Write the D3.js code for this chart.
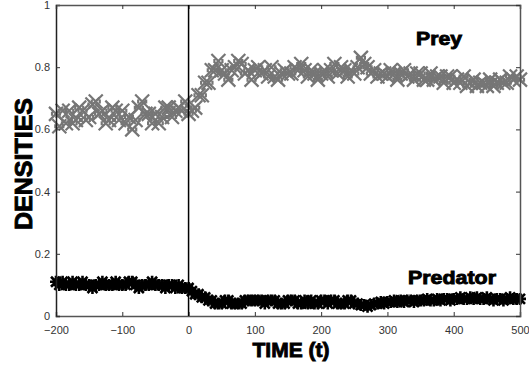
<!DOCTYPE html>
<html>
<head>
<meta charset="utf-8">
<script src="https://cdn.jsdelivr.net/npm/d3@7"></script>
<style>
  html, body { margin: 0; padding: 0; background: #fff; }
</style>
</head>
<body>
<div id="chart"></div>
<script>
// ---------------------------------------------------------------------------
// Prey / predator densities over time (markers only)
// ---------------------------------------------------------------------------

// time samples every 5 units, -200 .. 500
const tStart = -200;
const tStep = 5;

const preyValues = [
  0.65, 0.61, 0.66, 0.62, 0.66, 0.62, 0.63, 0.67, 0.66, 0.63,
  0.64, 0.68, 0.69, 0.65, 0.66, 0.62, 0.63, 0.67, 0.66, 0.63,
  0.66, 0.62, 0.64, 0.60, 0.63, 0.67, 0.69, 0.65, 0.65, 0.62,
  0.65, 0.62, 0.64, 0.67, 0.67, 0.64, 0.66, 0.67, 0.66, 0.69,
  0.65, 0.66, 0.67, 0.71, 0.71, 0.75, 0.75, 0.79, 0.79, 0.82,
  0.79, 0.78, 0.76, 0.79, 0.80, 0.82, 0.81, 0.78, 0.79, 0.76,
  0.79, 0.80, 0.78, 0.79, 0.77, 0.80, 0.77, 0.76, 0.78, 0.79,
  0.78, 0.78, 0.80, 0.79, 0.81, 0.79, 0.77, 0.79, 0.78, 0.76,
  0.78, 0.79, 0.77, 0.79, 0.81, 0.78, 0.80, 0.79, 0.77, 0.79,
  0.78, 0.80, 0.83, 0.81, 0.80, 0.78, 0.79, 0.77, 0.78, 0.78,
  0.77, 0.79, 0.78, 0.76, 0.78, 0.79, 0.77, 0.78, 0.76, 0.78,
  0.78, 0.76, 0.76, 0.78, 0.76, 0.77, 0.77, 0.75, 0.77, 0.77,
  0.75, 0.76, 0.75, 0.77, 0.74, 0.75, 0.76, 0.74, 0.75, 0.75,
  0.74, 0.76, 0.74, 0.75, 0.76, 0.75, 0.75, 0.77, 0.76, 0.77,
  0.76
];

const predatorValues = [
  0.11, 0.10, 0.11, 0.10, 0.10, 0.11, 0.10, 0.10, 0.11, 0.10,
  0.10, 0.09, 0.10, 0.10, 0.11, 0.10, 0.10, 0.10, 0.11, 0.10,
  0.10,
  0.10, 0.11, 0.11, 0.10, 0.09, 0.10, 0.10, 0.10, 0.11, 0.10,
  0.10, 0.10, 0.09, 0.10, 0.10, 0.09, 0.10, 0.09, 0.09, 0.09,
  0.08, 0.07, 0.07, 0.06, 0.06, 0.05, 0.05, 0.04, 0.04, 0.04,
  0.05, 0.05, 0.04, 0.04, 0.04, 0.04, 0.05, 0.05, 0.05, 0.05,
  0.05, 0.05, 0.04, 0.05, 0.05, 0.05, 0.04, 0.04, 0.04, 0.05,
  0.05, 0.05, 0.04, 0.04, 0.05, 0.04, 0.05, 0.04, 0.04, 0.05,
  0.05, 0.04, 0.05, 0.05, 0.04, 0.04, 0.04, 0.05, 0.05, 0.04,
  0.04, 0.035, 0.035, 0.03, 0.035, 0.04, 0.04, 0.045, 0.04, 0.045,
  0.045, 0.05, 0.045, 0.05, 0.045, 0.05, 0.05, 0.045, 0.05, 0.05,
  0.05, 0.055, 0.05, 0.05, 0.055, 0.05, 0.055, 0.055, 0.05, 0.055,
  0.055, 0.06, 0.055, 0.055, 0.06, 0.055, 0.06, 0.055, 0.055, 0.06,
  0.055, 0.05, 0.055, 0.055, 0.05, 0.055, 0.06, 0.055, 0.055, 0.055
];

const xTicks = [-200, -100, 0, 100, 200, 300, 400, 500];
const yTicks = [0, 0.2, 0.4, 0.6, 0.8, 1];
const seriesLabels = ['Prey', 'Predator'];

const width = 529;
const height = 370;
const margin = { top: 5, right: 9, bottom: 54, left: 56 };
const innerW = width - margin.left - margin.right;
const innerH = height - margin.top - margin.bottom;

const x = d3.scaleLinear().domain([-200, 500]).range([0, innerW]);
const y = d3.scaleLinear().domain([0, 1]).range([innerH, 0]);

const svg = d3.select('#chart').append('svg')
  .attr('width', width).attr('height', height)
  .style('font-family', 'Liberation Sans, Arial, sans-serif');

const g = svg.append('g').attr('transform', `translate(${margin.left},${margin.top})`);

const prey = preyValues.map((v, i) => [tStart + i * tStep, v]);
const predator = predatorValues.map((v, i) => [tStart + i * tStep, v]);

// markers
const xMark = 'M-7,-7L7,7M-7,7L7,-7M-4,-2L-4,2M4,-2L4,2';
const starMark = 'M-6,0L6,0M0,-6L0,6M-5,-5L5,5M-5,5L5,-5';

g.append('g').selectAll('path')
  .data(prey)
  .join('path')
  .attr('transform', (d) => `translate(${x(d[0])},${y(d[1])})`)
  .attr('d', xMark)
  .attr('fill', 'none')
  .attr('stroke', '#767676')
  .attr('stroke-width', 2.2);

g.append('g').selectAll('path')
  .data(predator)
  .join('path')
  .attr('transform', (d) => `translate(${x(d[0])},${y(d[1])})`)
  .attr('d', starMark)
  .attr('fill', 'none')
  .attr('stroke', '#000')
  .attr('stroke-width', 2.6);

// axes (ticks inward)
const axBottom = g.append('g').attr('transform', `translate(0,${innerH})`)
  .call(d3.axisBottom(x).tickValues(xTicks).tickSize(-4).tickPadding(10).tickFormat(d3.format('d')));
const axLeft = g.append('g')
  .call(d3.axisLeft(y).tickValues(yTicks).tickSize(-4).tickPadding(6).tickFormat((d) => d === 0 || d === 1 ? d : d3.format('.1f')(d)));
const axTop = g.append('g')
  .call(d3.axisTop(x).tickValues(xTicks).tickSize(-4).tickFormat(''));
const axRight = g.append('g').attr('transform', `translate(${innerW},0)`)
  .call(d3.axisRight(y).tickValues(yTicks).tickSize(-4).tickFormat(''));

[axBottom, axLeft, axTop, axRight].forEach((a) => {
  a.select('.domain').attr('stroke', '#555').attr('stroke-width', 1.5);
  a.selectAll('.tick line').attr('stroke', '#333');
  a.selectAll('.tick text').attr('fill', '#333').style('font-size', '11px');
});
axLeft.select('.domain').attr('stroke', '#222');

// t = 0 marker line
g.append('line')
  .attr('x1', x(0)).attr('x2', x(0))
  .attr('y1', 0).attr('y2', innerH)
  .attr('stroke', '#000').attr('stroke-width', 1.5);

// heavy label helper
function heavy(sel, size, len) {
  return sel.style('font-size', size + 'px').style('font-weight', 'bold')
    .attr('stroke', '#000').attr('stroke-width', 0.9)
    .attr('textLength', len).attr('lengthAdjust', 'spacingAndGlyphs');
}

// series labels
heavy(svg.append('text').attr('x', 416).attr('y', 45), 18, 46).text(seriesLabels[0]);
heavy(svg.append('text').attr('x', 408).attr('y', 284), 18, 88).text(seriesLabels[1]);

// axis titles
heavy(svg.append('text').attr('x', 291).attr('y', 357).attr('text-anchor', 'middle'), 21, 77)
  .text('TIME (t)');
heavy(svg.append('text')
  .attr('transform', 'translate(32,164) rotate(-90)')
  .attr('text-anchor', 'middle'), 23, 132)
  .text('DENSITIES');
</script>
</body>
</html>
